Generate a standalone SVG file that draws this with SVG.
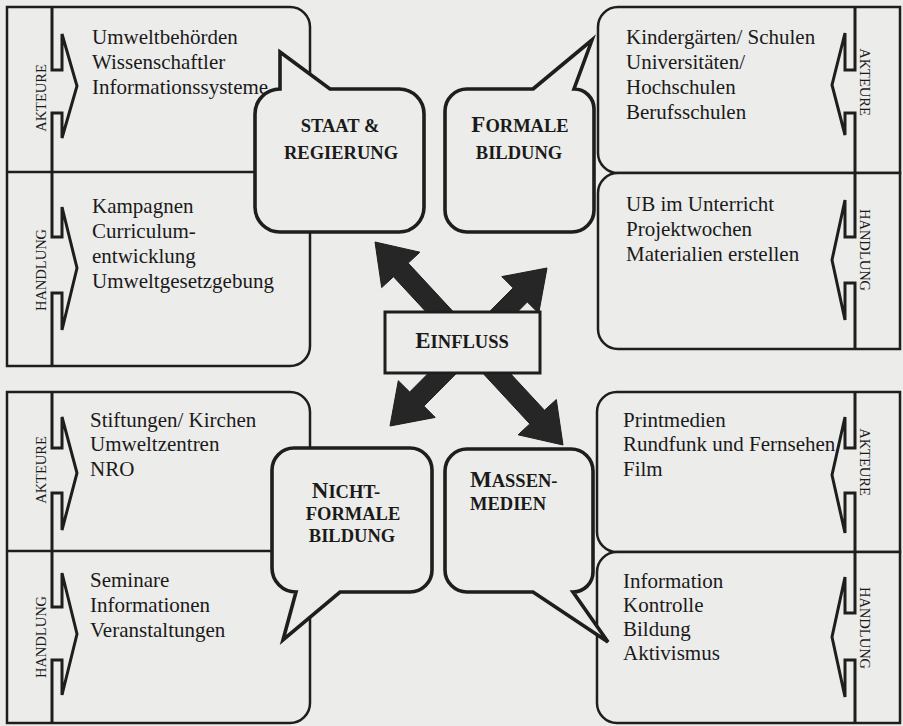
<svg xmlns="http://www.w3.org/2000/svg" width="903" height="726" viewBox="0 0 903 726">
<style>
.bg{fill:#ececea}
.pl{fill:none;stroke:#1e1e1e;stroke-width:2.5;stroke-linejoin:miter}
.pf{fill:#ececea;stroke:#1e1e1e;stroke-width:2.5}
.ar{fill:none;stroke:#1e1e1e;stroke-width:3;stroke-linejoin:miter}
.bub{fill:#ececea;stroke:#1e1e1e;stroke-width:3.6;stroke-linejoin:miter}
.t{font-family:"Liberation Serif","Times New Roman",serif;font-size:21px;fill:#1a1a1a}
.side{font-family:"Liberation Serif","Times New Roman",serif;font-size:14.5px;fill:#1a1a1a;text-anchor:middle}
.b{font-family:"Liberation Serif","Times New Roman",serif;font-weight:bold;font-size:18.5px;fill:#1a1a1a;text-anchor:middle}
.bl{font-family:"Liberation Serif","Times New Roman",serif;font-weight:bold;font-size:18.5px;fill:#1a1a1a}
.cap{font-size:23px}
.conn{fill:#262626;stroke:#1e1e1e;stroke-width:1}
</style>
<rect class="bg" x="0" y="0" width="903" height="726"/>

<!-- Top-left panel -->
<g id="panel-top-left">
<path class="pf" d="M7,7 H290 A20,20 0 0 1 310,27 V346 A20,20 0 0 1 290,366 H7 Z"/>
<path class="pl" d="M7,172 H310"/>
<path class="ar" d="M52,7 V70 H62 V34 L77,86 L62,138 V113 H52 V207 M52,172 V237 H62 V207 L77,268 L62,330 V293 H52 V366"/>
<text class="side" transform="translate(46,98) rotate(-90)">AKTEURE</text>
<text class="side" transform="translate(46,270) rotate(-90)">HANDLUNG</text>
<text class="t" x="92" y="44">Umweltbehörden</text>
<text class="t" x="92" y="69">Wissenschaftler</text>
<text class="t" x="92" y="94">Informationssysteme</text>
<text class="t" x="92" y="213">Kampagnen</text>
<text class="t" x="92" y="238">Curriculum-</text>
<text class="t" x="92" y="263">entwicklung</text>
<text class="t" x="92" y="288">Umweltgesetzgebung</text>
</g>

<!-- Bottom-left panel -->
<g id="panel-bottom-left">
<path class="pf" d="M7,392 H290 A20,20 0 0 1 310,412 V703 A20,20 0 0 1 290,723 H7 Z"/>
<path class="pl" d="M7,551 H310"/>
<path class="ar" d="M52,392 V448 H62 V417 L77,473 L62,530 V493 H52 V607 H62 V573 L77,634 L62,695 V660 H52 V723"/>
<text class="side" transform="translate(46,470) rotate(-90)">AKTEURE</text>
<text class="side" transform="translate(46,637) rotate(-90)">HANDLUNG</text>
<text class="t" x="90" y="427">Stiftungen/ Kirchen</text>
<text class="t" x="90" y="451">Umweltzentren</text>
<text class="t" x="90" y="476">NRO</text>
<text class="t" x="90" y="587">Seminare</text>
<text class="t" x="90" y="612">Informationen</text>
<text class="t" x="90" y="637">Veranstaltungen</text>
</g>

<!-- Top-right panel -->
<g id="panel-top-right">
<path class="pf" d="M900,7 H618 A20,20 0 0 0 598,27 V153 A20,20 0 0 0 618,173 H900 Z"/>
<path class="pf" d="M900,173 H618 A20,20 0 0 0 598,193 V329 A20,20 0 0 0 618,349 H900 Z"/>
<path class="ar" d="M855,7 V70 H845 V33 L832,85 L845,135 V113 H855 V237 H845 V200 L832,260 L845,320 V283 H855 V349"/>
<text class="side" transform="translate(860,82) rotate(90)">AKTEURE</text>
<text class="side" transform="translate(860,250) rotate(90)">HANDLUNG</text>
<text class="t" x="626" y="44">Kindergärten/ Schulen</text>
<text class="t" x="626" y="69">Universitäten/</text>
<text class="t" x="626" y="94">Hochschulen</text>
<text class="t" x="626" y="119">Berufsschulen</text>
<text class="t" x="626" y="211">UB im Unterricht</text>
<text class="t" x="626" y="236">Projektwochen</text>
<text class="t" x="626" y="261">Materialien erstellen</text>
</g>

<!-- Bottom-right panel -->
<g id="panel-bottom-right">
<path class="pf" d="M900,392 H617 A20,20 0 0 0 597,412 V532 A20,20 0 0 0 617,552 H900 Z"/>
<path class="pf" d="M900,552 H617 A20,20 0 0 0 597,572 V703 A20,20 0 0 0 617,723 H900 Z"/>
<path class="ar" d="M855,392 V448 H845 V417 L832,475 L845,533 V493 H855 V613 H845 V577 L832,637 L845,697 V660 H855 V723"/>
<text class="side" transform="translate(860,462) rotate(90)">AKTEURE</text>
<text class="side" transform="translate(860,628) rotate(90)">HANDLUNG</text>
<text class="t" x="623" y="427">Printmedien</text>
<text class="t" x="623" y="451">Rundfunk und Fernsehen</text>
<text class="t" x="623" y="476">Film</text>
<text class="t" x="623" y="588">Information</text>
<text class="t" x="623" y="612">Kontrolle</text>
<text class="t" x="623" y="636">Bildung</text>
<text class="t" x="623" y="660">Aktivismus</text>
</g>

<!-- Connectors: influence arrows -->
<g id="connectors">
<polygon class="conn" points="375,242 381.7,287.6 393.5,276.7 529.8,423.9 518.1,434.8 563,445 556.3,399.5 544.5,410.3 408.2,263.1 419.9,252.2"/>
<polygon class="conn" points="547,268 501.8,276.6 513.1,287.9 409.7,392 398.3,380.7 390,426 435.2,417.4 423.9,406.1 527.3,302 538.7,313.3"/>
</g>

<!-- Bubbles -->
<g id="staat-regierung">
<path class="bub" d="M280,52 L330,89 H399 A25,25 0 0 1 424,114 V207 A25,25 0 0 1 399,232 H280 A25,25 0 0 1 255,207 V114 A25,25 0 0 1 280,89 Z"/>
<text class="b" x="340" y="132">STAAT &amp;</text>
<text class="b" x="341" y="159">REGIERUNG</text>
</g>
<g id="formale-bildung">
<path class="bub" d="M533,89 L592,40 L574,89 A20,20 0 0 1 594,109 V210 A22,22 0 0 1 572,232 H467 A22,22 0 0 1 445,210 V111 A22,22 0 0 1 467,89 Z"/>
<text class="b" x="520" y="132"><tspan class="cap">F</tspan>ORMALE</text>
<text class="b" x="519" y="159">BILDUNG</text>
</g>
<g id="nichtformale-bildung">
<path class="bub" d="M294,448 H410 A22,22 0 0 1 432,470 V570 A22,22 0 0 1 410,592 H340 L283,640 L296,592 A24,24 0 0 1 272,568 V470 A22,22 0 0 1 294,448 Z"/>
<text class="b" x="346" y="498"><tspan class="cap">N</tspan>ICHT-</text>
<text class="b" x="353" y="520">FORMALE</text>
<text class="b" x="352" y="542">BILDUNG</text>
</g>
<g id="massenmedien">
<path class="bub" d="M467,449 H571 A22,22 0 0 1 593,471 V572 A20,20 0 0 1 573,592 L608,642 L533,592 H467 A22,22 0 0 1 445,570 V471 A22,22 0 0 1 467,449 Z"/>
<text class="bl" x="470" y="487"><tspan class="cap">M</tspan>ASSEN-</text>
<text class="bl" x="470" y="510">MEDIEN</text>
</g>
<g id="einfluss">
<rect x="385" y="312" width="155" height="61" fill="#ececea" stroke="#1e1e1e" stroke-width="3"/>
<text class="b" x="462" y="348"><tspan class="cap">E</tspan>INFLUSS</text>
</g>
</svg>
